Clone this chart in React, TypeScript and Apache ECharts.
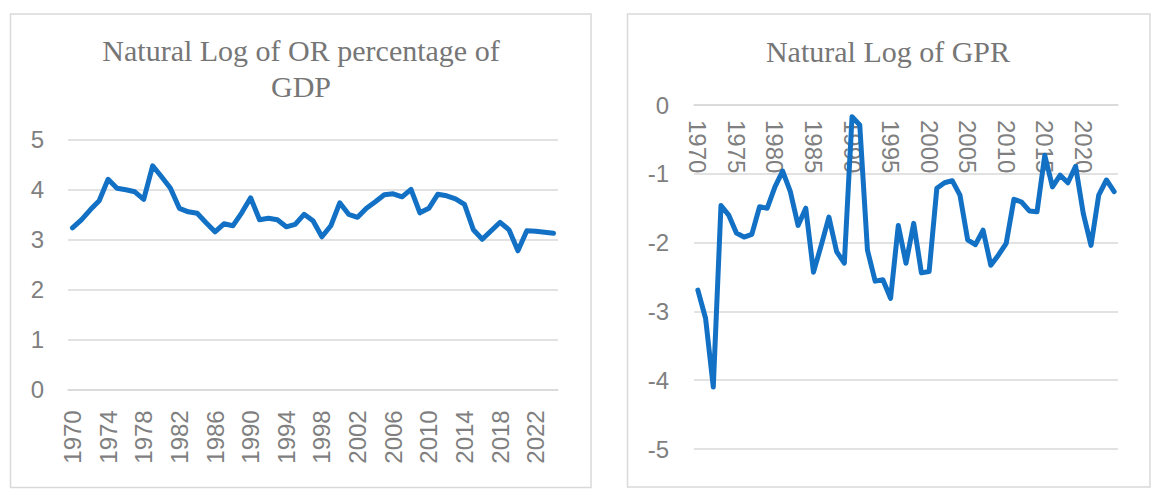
import React, { useEffect, useRef } from "react";
import * as echarts from "echarts";

const years = [
  "1970","1971","1972","1973","1974","1975","1976","1977","1978","1979",
  "1980","1981","1982","1983","1984","1985","1986","1987","1988","1989",
  "1990","1991","1992","1993","1994","1995","1996","1997","1998","1999",
  "2000","2001","2002","2003","2004","2005","2006","2007","2008","2009",
  "2010","2011","2012","2013","2014","2015","2016","2017","2018","2019",
  "2020","2021","2022","2023","2024",
];

const orGdp = [
  3.23, 3.39, 3.59, 3.77, 4.2, 4.02, 3.99, 3.95, 3.8, 4.47,
  4.25, 4.02, 3.62, 3.55, 3.52, 3.33, 3.15, 3.31, 3.27, 3.53,
  3.83, 3.39, 3.42, 3.39, 3.25, 3.3, 3.5, 3.37, 3.05, 3.27,
  3.73, 3.5, 3.44, 3.62, 3.75, 3.89, 3.91, 3.85, 4.0, 3.53,
  3.62, 3.9, 3.87, 3.81, 3.7, 3.19, 3.0, 3.17, 3.34, 3.19,
  2.77, 3.17, 3.16, 3.14, 3.12,
];

const gpr = [
  -2.69, -3.1, -4.1, -1.46, -1.6, -1.86, -1.92, -1.88, -1.48, -1.5,
  -1.19, -0.96, -1.26, -1.75, -1.5, -2.43, -2.04, -1.63, -2.13, -2.3,
  -0.17, -0.29, -2.11, -2.56, -2.54, -2.81, -1.75, -2.3, -1.72, -2.44,
  -2.42, -1.21, -1.13, -1.1, -1.31, -1.96, -2.03, -1.82, -2.33, -2.18,
  -2.01, -1.37, -1.41, -1.54, -1.55, -0.73, -1.19, -1.02, -1.13, -0.89,
  -1.58, -2.04, -1.31, -1.09, -1.26,
];

const leftTitle1 = "Natural Log of OR percentage of";
const leftTitle2 = "GDP";
const rightTitle = "Natural Log of GPR";

const gridColor = "#d9d9d9";
const labelColor = "#7f7f7f";
const titleColor = "#767676";
const lineColor = "#1271c5";
const sans = '"Liberation Sans", Arial, sans-serif';
const serif = '"Liberation Serif", "Times New Roman", serif';

export default function App() {
  const ref = useRef<HTMLDivElement>(null);
  useEffect(() => {
    if (!ref.current) return;
    const chart = echarts.init(ref.current, undefined, { renderer: "svg" });
    const axisLabelBase = { color: labelColor, fontSize: 24, fontFamily: sans };
    const titleStyle = { fill: titleColor, fontSize: 30, fontFamily: serif, align: "center", verticalAlign: "middle" };
    chart.setOption({
      animation: false,
      backgroundColor: "#ffffff",
      graphic: [
        { type: "rect", silent: true, shape: { x: 10.5, y: 14, width: 580.5, height: 473.5 }, style: { fill: "none", stroke: gridColor, lineWidth: 1.5 } },
        { type: "rect", silent: true, shape: { x: 627.5, y: 14, width: 522.5, height: 473 }, style: { fill: "none", stroke: gridColor, lineWidth: 1.5 } },
        { type: "text", silent: true, x: 301, y: 50.5, style: { ...titleStyle, text: leftTitle1 } },
        { type: "text", silent: true, x: 301, y: 86, style: { ...titleStyle, text: leftTitle2 } },
        { type: "text", silent: true, x: 888, y: 51.5, style: { ...titleStyle, text: rightTitle } },
      ],
      grid: [
        { left: 68, top: 139.3, width: 490, height: 250 },
        { left: 694, top: 105, width: 424, height: 344 },
      ],
      xAxis: [
        {
          type: "category",
          gridIndex: 0,
          data: years,
          boundaryGap: true,
          axisLine: { show: true, lineStyle: { color: gridColor, width: 1.5 } },
          axisTick: { show: false },
          axisLabel: { ...axisLabelBase, interval: 3, rotate: 90, margin: 21 },
          splitLine: { show: false },
        },
        {
          type: "category",
          gridIndex: 1,
          data: years,
          position: "top",
          boundaryGap: true,
          axisLine: { show: true, onZero: false, lineStyle: { color: gridColor, width: 1.5 } },
          axisTick: { show: false },
          axisLabel: { ...axisLabelBase, interval: 4, rotate: 90, margin: 15, inside: true },
          splitLine: { show: false },
        },
      ],
      yAxis: [
        {
          type: "value",
          gridIndex: 0,
          min: 0,
          max: 5,
          interval: 1,
          axisLine: { show: false },
          axisTick: { show: false },
          axisLabel: { ...axisLabelBase, margin: 24 },
          splitLine: { lineStyle: { color: gridColor, width: 1.5 } },
        },
        {
          type: "value",
          gridIndex: 1,
          min: -5,
          max: 0,
          interval: 1,
          axisLine: { show: false },
          axisTick: { show: false },
          axisLabel: { ...axisLabelBase, margin: 25 },
          splitLine: { lineStyle: { color: gridColor, width: 1.5 } },
        },
      ],
      series: [
        {
          type: "line",
          xAxisIndex: 0,
          yAxisIndex: 0,
          data: orGdp,
          symbol: "none",
          lineStyle: { color: lineColor, width: 5, cap: "round", join: "round" },
        },
        {
          type: "line",
          xAxisIndex: 1,
          yAxisIndex: 1,
          data: gpr,
          symbol: "none",
          lineStyle: { color: lineColor, width: 5, cap: "round", join: "round" },
        },
      ],
    });
    return () => chart.dispose();
  }, []);
  return (
    <div
      ref={ref}
      style={{ position: "fixed", left: 0, top: 0, width: 1157, height: 491 }}
    />
  );
}
